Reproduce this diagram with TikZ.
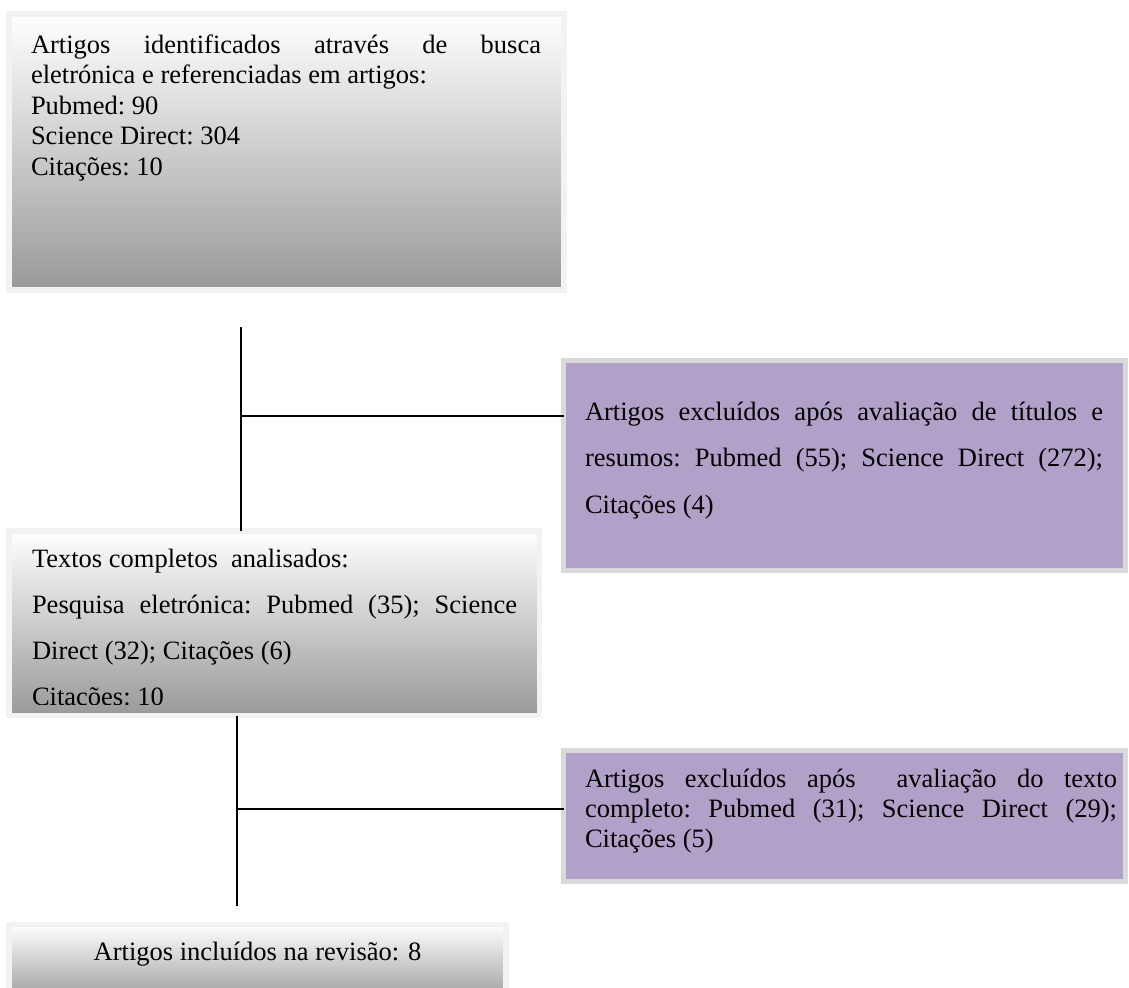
\documentclass[tikz,border=0pt]{standalone}
\usepackage{fontspec}
\setmainfont{Liberation Serif}
\definecolor{lilac}{RGB}{177,160,199}
\definecolor{bandgray}{RGB}{242,242,242}
\definecolor{bandpurple}{RGB}{217,217,217}
\definecolor{shadebot}{RGB}{153,153,153}
\newcommand{\fullline}[1]{\makebox[\linewidth][s]{#1}}
\begin{document}
\begin{tikzpicture}[x=1bp,y=-1bp,
  graybox/.style={rectangle, inner sep=0pt, outer sep=0pt, draw=bandgray, line width=6bp, top color=white, bottom color=shadebot},
  lilacbox/.style={rectangle, inner sep=0pt, outer sep=0pt, draw=bandpurple, line width=5bp, fill=lilac},
  txt/.style={inner sep=0pt, outer sep=0pt, anchor=base west, font=\fontsize{26.5bp}{30.5bp}\selectfont},
  conn/.style={line width=1.6bp, draw=black}]
\useasboundingbox (0,0) rectangle (1129,988);
\clip (0,0) rectangle (1129,988);
\fill[white] (0,0) rectangle (1129,988);

% boxes
\node[graybox, minimum width=555bp, minimum height=275.5bp] (A) at (286.5,152.25) {};
\node[graybox, line width=5.5bp, minimum width=530.5bp, minimum height=184.5bp] (B) at (274.25,623.25) {};
\node[lilacbox, minimum width=562bp, minimum height=210bp] (C) at (844.5,465.5) {};
\node[lilacbox, minimum width=562bp, minimum height=131.5bp] (D) at (844.5,815.75) {};
\node[graybox, line width=5.5bp, bottom color={rgb,255:red,150;green,150;blue,150}, minimum width=497bp, minimum height=80.5bp] (E) at (257.5,964.75) {};

% texts
\node[txt] (ta) at (31,53) {\parbox[t]{510bp}{\frenchspacing\fontsize{26.5bp}{30.5bp}\selectfont
  \fullline{Artigos identificados através de busca}\\
  eletrónica e referenciadas em artigos:\\
  Pubmed: 90\\
  Science Direct: 304\\
  Citações: 10}};
\begin{scope}
\clip (12,534) rectangle (537,704);
\node[txt] (tb) at (32,567) {\parbox[t]{485bp}{\frenchspacing\fontsize{26.5bp}{46.3bp}\selectfont
  Textos completos\ \ analisados:\\
  \fullline{Pesquisa eletrónica: Pubmed (35); Science}\\
  Direct (32); Citações (6)\\
  Citações: 10}};
\end{scope}
\node[txt] (tc) at (585,420) {\parbox[t]{518bp}{\frenchspacing\fontsize{26.5bp}{46.5bp}\selectfont
  \fullline{Artigos excluídos após avaliação de títulos e}\\
  \fullline{resumos: Pubmed (55); Science Direct (272);}\\
  Citações (4)}};
\node[txt] (td) at (585,787) {\parbox[t]{532bp}{\frenchspacing\fontsize{26.5bp}{30bp}\selectfont
  \fullline{Artigos excluídos após\ \ avaliação do texto}\\
  \fullline{completo: Pubmed (31); Science Direct (29);}\\
  Citações (5)}};
\node[txt, anchor=base] (te) at (257.5,960) {Artigos incluídos na revisão: 8};

% connectors
\coordinate (v1) at (241,327);
\coordinate (j1) at (241,416);
\draw[conn] (v1) -- (v1 |- B.north);
\draw[conn] (j1) -- (j1 -| C.west);
\coordinate (v2) at (237,906);
\coordinate (j2) at (237,809);
\draw[conn] (v2 |- B.south) -- (v2);
\draw[conn] (j2) -- (j2 -| D.west);
\end{tikzpicture}
\end{document}
